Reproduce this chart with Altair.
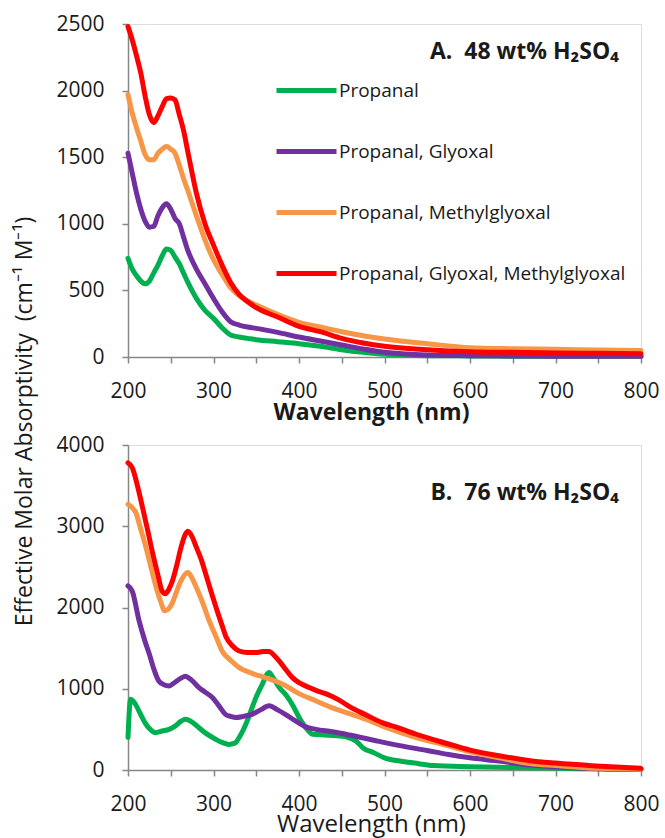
import altair as alt
import pandas as pd

SERIES = ["Propanal", "Propanal, Glyoxal", "Propanal, Methylglyoxal",
          "Propanal, Glyoxal, Methylglyoxal"]
COLORS = ["#00B050", "#7030A0", "#F79646", "#FF0000"]

# ---------- Panel A: 48 wt% H2SO4 ----------
a_wl = [200, 205, 210, 215, 220, 225, 230, 235, 240, 245, 250, 255, 260, 265, 270,
        280, 290, 300, 310, 320, 330, 340, 350, 375, 400, 425, 450, 475, 500, 550,
        600, 650, 700, 750, 800]
a_green = [740, 660, 610, 570, 550, 570, 630, 690, 760, 810, 800, 750, 700, 630, 560,
           440, 350, 290, 220, 165, 150, 140, 130, 115, 100, 80, 55, 35, 20, 10,
           8, 6, 5, 5, 5]
a_purple = [1530, 1380, 1230, 1110, 1020, 975, 980, 1060, 1120, 1150, 1110, 1040, 1000, 900, 800,
            660, 550, 440, 340, 265, 240, 225, 215, 185, 150, 120, 90, 60, 35, 15,
            10, 8, 6, 5, 5]
a_orange = [1970, 1830, 1720, 1620, 1520, 1480, 1480, 1530, 1560, 1580, 1560, 1530, 1440, 1340, 1250,
            1060, 880, 730, 620, 520, 460, 420, 390, 320, 260, 225, 190, 160, 135, 100,
            70, 62, 58, 52, 48]
a_red = [2480, 2380, 2260, 2130, 1960, 1820, 1760, 1810, 1880, 1940, 1945, 1930, 1820, 1700, 1540,
         1230, 1000, 840, 690, 560, 470, 415, 370, 300, 230, 190, 140, 105, 80, 55,
         40, 35, 30, 28, 25]

# ---------- Panel B: 76 wt% H2SO4 ----------
b_green_wl = [200, 203, 208, 215, 220, 225, 232, 240, 248, 255, 262, 267, 275, 283, 290, 299,
              310, 318, 325, 330, 340, 345, 350, 357, 365, 370, 377, 385, 392, 400, 408, 416,
              430, 445, 458, 467, 475, 487, 500, 518, 535, 557, 600, 650, 700, 750, 800]
b_green = [400, 870, 820, 680, 580, 510, 460, 480, 500, 540, 600, 625, 590, 520, 460, 400,
           340, 315, 330, 400, 620, 765, 900, 1055, 1200, 1130, 1015, 920, 810, 650, 520, 440,
           430, 420, 400, 355, 270, 215, 150, 110, 85, 55, 40, 30, 20, 15, 10]
b_purple_wl = [200, 205, 213, 220, 225, 230, 236, 242, 248, 255, 262, 267, 275, 283, 290, 299,
               307, 314, 320, 326, 335, 345, 355, 365, 375, 384, 395, 408, 420, 439, 459, 490,
               518, 550, 575, 600, 634, 670, 700, 750, 800]
b_purple = [2265, 2200, 1835, 1580, 1425, 1250, 1095, 1050, 1035, 1080, 1130, 1155, 1100, 1015, 960, 890,
            780, 685, 660, 645, 660, 685, 740, 790, 740, 685, 610, 530, 500, 470, 430, 360,
            300, 240, 190, 150, 110, 60, 40, 15, 5]
b_orange_wl = [200, 209, 215, 221, 227, 233, 238, 243, 248, 252, 257, 262, 270, 275, 280, 288,
               295, 303, 310, 320, 330, 345, 361, 381, 400, 420, 439, 460, 478, 500, 537, 570,
               600, 634, 670, 700, 750, 800]
b_orange = [3270, 3170, 2960, 2740, 2490, 2245, 2080, 1960, 1990, 2060, 2200, 2330, 2430, 2360, 2245, 2040,
            1835, 1640, 1465, 1350, 1260, 1190, 1135, 1055, 940, 850, 765, 690, 625, 530, 400, 310,
            225, 150, 80, 55, 20, 10]
b_red_wl = [200, 205, 211, 217, 223, 229, 235, 240, 244, 248, 252, 257, 262, 267, 270, 275,
            280, 286, 291, 297, 303, 310, 315, 322, 330, 340, 350, 358, 365, 371, 377, 385,
            392, 400, 412, 422, 431, 447, 459, 478, 498, 513, 537, 575, 600, 634, 670, 700,
            747, 800]
b_red = [3780, 3720, 3500, 3230, 2950, 2660, 2400, 2200, 2170, 2230, 2330, 2520, 2740, 2900, 2940, 2870,
         2740, 2580, 2410, 2200, 2000, 1780, 1630, 1530, 1465, 1445, 1445, 1460, 1460, 1410, 1340, 1230,
         1140, 1075, 1015, 970, 940, 860, 780, 680, 580, 530, 440, 320, 245, 175, 115, 85,
         50, 20]


def long_df(pairs):
    frames = []
    for name, wl, vals in pairs:
        frames.append(pd.DataFrame({"wl": wl, "val": vals, "series": name}))
    return pd.concat(frames, ignore_index=True)


df_a = long_df([(SERIES[0], a_wl, a_green), (SERIES[1], a_wl, a_purple),
                (SERIES[2], a_wl, a_orange), (SERIES[3], a_wl, a_red)])
df_b = long_df([(SERIES[0], b_green_wl, b_green), (SERIES[1], b_purple_wl, b_purple),
                (SERIES[2], b_orange_wl, b_orange), (SERIES[3], b_red_wl, b_red)])

FONT = "Open Sans"
AXIS_GRAY = "#868686"
TEXT = "#1a1a1a"
W = 513
NB = "\u00a0"


def x_axis(bold):
    return alt.Axis(
        values=list(range(200, 801, 50)),
        labelExpr="datum.value % 100 == 0 ? datum.label : ''",
        labelOverlap=False, labelFlush=False,
        tickSize=6, labelPadding=17, grid=False,
        domainColor=AXIS_GRAY, tickColor=AXIS_GRAY, domainWidth=1.5, tickWidth=1.5,
        labelFont=FONT, labelFontSize=21, labelColor=TEXT,
        title="Wavelength (nm)", titleFont=FONT,
        titleFontSize=23 if bold else 24,
        titleFontWeight="bold" if bold else "normal", titleColor=TEXT,
        titleBaseline="top", titleY=44 if bold else 42, titleX=243,
    )


def y_axis(vals, title):
    kw = dict(
        values=vals, format="d", tickSize=6, labelPadding=18, grid=False,
        domainColor=AXIS_GRAY, tickColor=AXIS_GRAY, domainWidth=1.5, tickWidth=1.5,
        labelFont=FONT, labelFontSize=21, labelColor=TEXT,
    )
    if title:
        kw.update(title=title, titleFont=FONT, titleFontSize=23, titleFontWeight="normal",
                  titleColor=TEXT, titleAngle=270, titleBaseline="middle", titleAlign="center",
                  titleX=-104, titleY=397)
    else:
        kw.update(title=None)
    return alt.Axis(**kw)


def panel(df, ymax, yvals, ytitle, bold_x, legend, label, label_y, height):
    layers = []
    for s in SERIES:
        color = alt.Color("series:N", scale=alt.Scale(domain=SERIES, range=COLORS),
                          legend=legend)
        layers.append(
            alt.Chart(df).transform_filter(alt.datum.series == s)
            .mark_line(strokeWidth=5, strokeCap="round", strokeJoin="round",
                       interpolate="monotone")
            .encode(
                x=alt.X("wl:Q", scale=alt.Scale(domain=[200, 800], nice=False),
                        axis=x_axis(bold_x)),
                y=alt.Y("val:Q", scale=alt.Scale(domain=[0, ymax], nice=False),
                        axis=y_axis(yvals, ytitle)),
                color=color,
            )
        )
    txt = alt.Chart(pd.DataFrame({"k": [0]})).mark_text(
        text=label, font=FONT, fontSize=23, fontWeight="bold", align="right",
        baseline="middle", color=TEXT
    ).encode(x=alt.value(491), y=alt.value(label_y))
    layers.append(txt)
    return alt.layer(*layers).properties(width=W, height=height)


legend_a = alt.Legend(
    title=None, orient="none", legendX=146, legendY=34, symbolType="stroke",
    symbolSize=3600, symbolStrokeWidth=5, labelFont=FONT, labelFontSize=19,
    labelColor=TEXT, rowPadding=18, labelOffset=0, padding=0, direction="vertical",
    labelLimit=400,
)

top = panel(df_a, 2500, [0, 500, 1000, 1500, 2000, 2500],
            "Effective Molar Absorptivity" + NB + NB + "(cm\u207b\u00b9 M\u207b\u00b9)",
            True, legend_a, "A." + NB + NB + "48 wt% H\u2082SO\u2084", 28, 333)
bottom = panel(df_b, 4000, [0, 1000, 2000, 3000, 4000], None, False, None,
               "B." + NB + NB + "76 wt% H\u2082SO\u2084", 48, 325)

chart = alt.vconcat(top, bottom, spacing=88, bounds="flush").resolve_legend(
    color="independent"
).properties(
    padding={"left": 12, "top": 12, "right": 5, "bottom": 5}
).configure_view(stroke=None).configure(background="white")

chart.save("out.html", embed_options={"renderer": "svg", "actions": False})
